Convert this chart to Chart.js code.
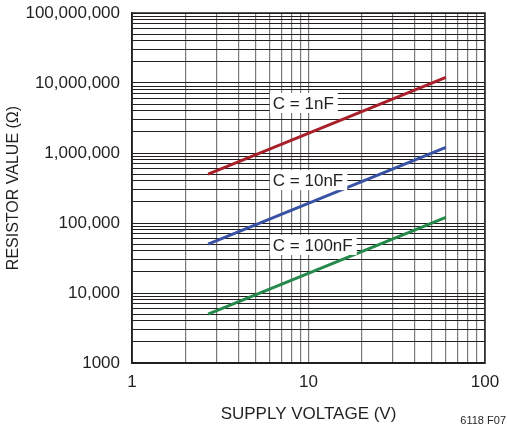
<!DOCTYPE html>
<html>
<head>
<meta charset="utf-8">
<script src="https://cdn.jsdelivr.net/npm/chart.js@4.4.1/dist/chart.umd.min.js"></script>
<style>
html,body{margin:0;padding:0;background:#fff;}
#wrap{width:507px;height:429px;position:relative;}
</style>
</head>
<body>
<div id="wrap"><canvas id="c" width="507" height="429"></canvas></div>
<script>
// ---- data ----
const voltages = [2.7, 60];
const r1nF = [500000, 12000000];
const r10nF = [50000, 1200000];
const r100nF = [5000, 120000];
const seriesNames = ["C = 1nF", "C = 10nF", "C = 100nF"];
const labelAnchorX = [6.2, 6.2, 6.2];
const labelAnchorY = [5200000, 410000, 48500];
const xTickLabels = {1: "1", 10: "10", 100: "100"};
const yTickLabels = {1000: "1000", 10000: "10,000", 100000: "100,000", 1000000: "1,000,000", 10000000: "10,000,000", 100000000: "100,000,000"};
const xTitle = "SUPPLY VOLTAGE (V)";
const yTitle = "RESISTOR VALUE (Ω)";
const footnote = "6118 F07";

const FONT = "'Liberation Sans', Arial, sans-serif";

function logTicks(minExp, maxExp) {
  const out = [];
  for (let e = minExp; e < maxExp; e++) {
    for (let m = 1; m <= 9; m++) out.push(m * Math.pow(10, e));
  }
  out.push(Math.pow(10, maxExp));
  return out;
}

const colors = ["#a8202a", "#3852a5", "#24894a"];
const seriesVals = [r1nF, r10nF, r100nF];

const labelPlugin = {
  id: 'labels',
  afterDatasetsDraw(chart) {
    const ctx = chart.ctx;
    const xs = chart.scales.x, ys = chart.scales.y;
    ctx.save();
    ctx.font = "17px " + FONT;
    ctx.textBaseline = "middle";
    ctx.textAlign = "left";
    seriesNames.forEach((name, i) => {
      const px = xs.getPixelForValue(labelAnchorX[i]);
      const py = ys.getPixelForValue(labelAnchorY[i]);
      const w = ctx.measureText(name).width;
      ctx.fillStyle = "#fff";
      ctx.fillRect(px - 2, py - 10, w + 7, 20);
      ctx.fillStyle = "#231f20";
      ctx.fillText(name, px + 1, py + 1);
    });
    ctx.font = "11px " + FONT;
    ctx.textAlign = "right";
    ctx.fillStyle = "#231f20";
    ctx.fillText(footnote, 506, 421);
    ctx.restore();
  }
};

new Chart(document.getElementById('c'), {
  type: 'line',
  data: {
    datasets: seriesNames.map((n, i) => ({
      label: n,
      data: voltages.map((v, j) => ({x: v, y: seriesVals[i][j]})),
      borderColor: colors[i],
      borderWidth: 3,
      pointRadius: 0,
      fill: false,
      tension: 0
    }))
  },
  options: {
    responsive: false,
    animation: false,
    devicePixelRatio: 1,
    layout: {padding: {left: 0, right: 22, top: 13, bottom: 0}},
    plugins: {legend: {display: false}, tooltip: {enabled: false}},
    scales: {
      x: {
        type: 'logarithmic',
        min: 1, max: 100,
        afterBuildTicks(s) { s.ticks = logTicks(0, 2).map(v => ({value: v})); },
        afterFit(s) { s.height = 66; s.paddingLeft = 0; s.paddingRight = 0; },
        ticks: {
          autoSkip: false, maxRotation: 0, padding: 9,
          color: "#231f20",
          font: {family: FONT, size: 17},
          callback(v) { return xTickLabels[v] !== undefined ? xTickLabels[v] : ""; }
        },
        grid: {
          color: "#7a7a7a",
          lineWidth: 1.2,
          drawTicks: false
        },
        border: {color: "#231f20", width: 1.5},
        title: {display: true, text: xTitle, color: "#231f20", font: {family: FONT, size: 17}, padding: {top: 3, bottom: 4}}
      },
      y: {
        type: 'logarithmic',
        min: 1000, max: 100000000,
        afterBuildTicks(s) { s.ticks = logTicks(3, 8).map(v => ({value: v})); },
        afterFit(s) { s.width = 132; s.paddingTop = 0; s.paddingBottom = 0; },
        ticks: {
          autoSkip: false, padding: 12,
          color: "#231f20",
          font: {family: FONT, size: 17},
          callback(v) { return yTickLabels[v] !== undefined ? yTickLabels[v] : ""; }
        },
        grid: {
          color: "#231f20",
          lineWidth: 1,
          drawTicks: false
        },
        border: {color: "#231f20", width: 1.5},
        title: {display: true, text: yTitle, color: "#231f20", font: {family: FONT, size: 16}, padding: {top: 4, bottom: 4}}
      }
    }
  },
  plugins: [labelPlugin, {
    id: 'frame',
    afterDraw(chart) {
      const a = chart.chartArea, ctx = chart.ctx;
      ctx.save();
      ctx.strokeStyle = "#231f20";
      ctx.lineWidth = 1.5;
      ctx.strokeRect(a.left, a.top, a.right - a.left, a.bottom - a.top);
      ctx.restore();
    }
  }]
});
</script>
</body>
</html>
